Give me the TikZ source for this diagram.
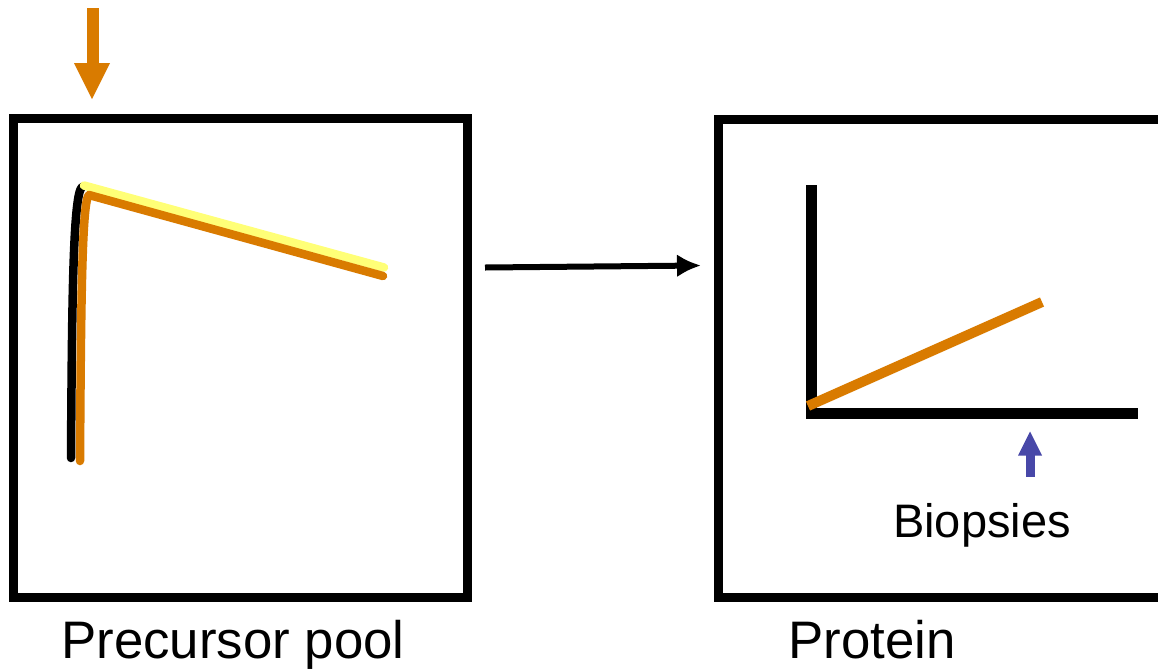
\documentclass[tikz,border=0pt]{standalone}
\usepackage{fontspec}
\setmainfont{Liberation Sans}
\usetikzlibrary{arrows.meta}
\definecolor{myorange}{RGB}{217,123,0}
\definecolor{myyellow}{RGB}{255,255,119}
\definecolor{myblue}{RGB}{72,72,168}
\begin{document}
\begin{tikzpicture}[x=1pt,y=-1pt,
  frame/.style={draw=black,line width=9pt,minimum width=454pt,minimum height=478.5pt,inner sep=0pt,rectangle},
  label/.style={anchor=base,inner sep=0pt,font=\fontsize{52.8}{60}\selectfont},
  smalllabel/.style={anchor=base,inner sep=0pt,font=\fontsize{47}{54}\selectfont},
  curve/.style={line width=8.5pt,line cap=round,line join=round},
  axis/.style={draw=black,line width=10.5pt,line join=miter}]
\useasboundingbox (0,0) rectangle (1158,670);
\clip (0,0) rectangle (1158,670);
% boxes
\node[frame] (pool) at (240.5,357.75) {};
\node[frame,minimum width=500pt] (prot) at (968,358.25) {};
% orange input arrow
\fill[myorange] (87,8) rectangle (99,64);
\fill[myorange] (74,63) -- (110,63) -- (92,99) -- cycle;
% precursor curves
\draw[curve,black] (71,458) .. controls (72,300) and (73,195) .. (82,187);
\draw[curve,myyellow] (84,185.5) -- (384,267.5);
\draw[curve,myorange] (80,461) .. controls (81,300) and (82,200) .. (89,195) -- (383,276);
% connecting arrow
\coordinate (a1) at (485,267.5);
\coordinate (a2) at (701,265.5);
\draw[line width=6pt,-{Latex[length=24pt,width=23pt]}] (a1) -- (a2);
% protein axes
\draw[axis] (811.7,185) -- (811.7,413.5) -- (1138,413.5);
\draw[myorange,line width=10pt] (808,406) -- (1042,302);
% biopsies arrow
\fill[myblue] (1025.5,455) rectangle (1034.5,477);
\fill[myblue] (1018,455.5) -- (1042,455.5) -- (1030,431.5) -- cycle;
% labels
\node[label] (t1) at (233,658) {Precursor pool};
\node[label] (t2) at (872,658) {Protein};
\node[smalllabel] (t3) at (982,537) {Biopsies};
\end{tikzpicture}
\end{document}
